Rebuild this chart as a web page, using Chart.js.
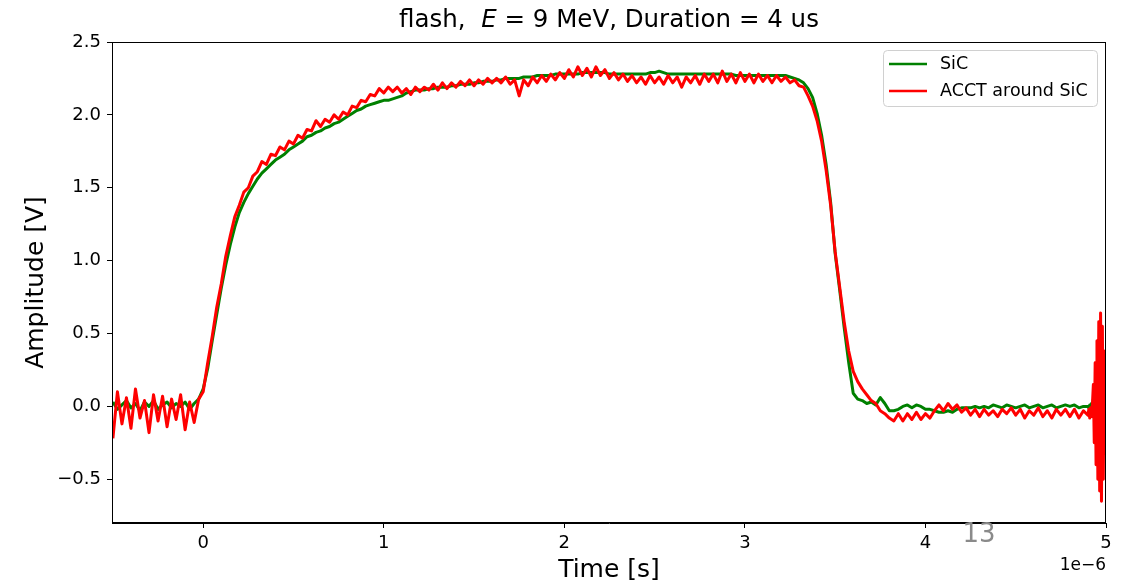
<!DOCTYPE html>
<html>
<head>
<meta charset="utf-8">
<script src="https://cdn.jsdelivr.net/npm/chart.js@4.4.1/dist/chart.umd.min.js"></script>
<style>
  html, body { margin: 0; padding: 0; background: #fff; }
  canvas { display: block; }
</style>
</head>
<body>
<canvas id="pulse" width="1132" height="585"></canvas>
<script>
// time in microseconds (axis shows 1e-6 offset)
const timeUs = [
  -0.5, -0.475, -0.45, -0.425,  -0.4, -0.375, -0.35, -0.325,
  -0.3, -0.275, -0.25, -0.225,  -0.2, -0.175, -0.15, -0.125,
  -0.1, -0.075, -0.05, -0.025,
  0.0, 0.025, 0.05, 0.075,  0.1, 0.125, 0.15, 0.175,
  0.2, 0.225, 0.25, 0.275,  0.3, 0.325, 0.35, 0.375,
  0.4, 0.425, 0.45, 0.475,  0.5, 0.525, 0.55, 0.575,
  0.6, 0.625, 0.65, 0.675,  0.7, 0.725, 0.75, 0.775,
  0.8, 0.825, 0.85, 0.875,  0.9, 0.925, 0.95, 0.975,
  1.0, 1.025, 1.05, 1.075,  1.1, 1.125, 1.15, 1.175,
  1.2, 1.225, 1.25, 1.275,  1.3, 1.325, 1.35, 1.375,
  1.4, 1.425, 1.45, 1.475,  1.5, 1.525, 1.55, 1.575,
  1.6, 1.625, 1.65, 1.675,  1.7, 1.725, 1.75, 1.775,
  1.8, 1.825, 1.85, 1.875,  1.9, 1.925, 1.95, 1.975,
  2.0, 2.025, 2.05, 2.075,  2.1, 2.125, 2.15, 2.175,
  2.2, 2.225, 2.25, 2.275,  2.3, 2.325, 2.35, 2.375,
  2.4, 2.425, 2.45, 2.475,  2.5, 2.525, 2.55, 2.575,
  2.6, 2.625, 2.65, 2.675,  2.7, 2.725, 2.75, 2.775,
  2.8, 2.825, 2.85, 2.875,  2.9, 2.925, 2.95, 2.975,
  3.0, 3.025, 3.05, 3.075,  3.1, 3.125, 3.15, 3.175,
  3.2, 3.225, 3.25, 3.275,  3.3, 3.325, 3.35, 3.375,
  3.4, 3.425, 3.45, 3.475,  3.5, 3.525, 3.55, 3.575,
  3.6, 3.625, 3.65, 3.675,  3.7, 3.725, 3.75, 3.775,
  3.8, 3.825, 3.85, 3.875,  3.9, 3.925, 3.95, 3.975,
  4.0, 4.025, 4.05, 4.075,  4.1, 4.125, 4.15, 4.175,
  4.2, 4.225, 4.25, 4.275,  4.3, 4.325, 4.35, 4.375,
  4.4, 4.425, 4.45, 4.475,  4.5, 4.525, 4.55, 4.575,
  4.6, 4.625, 4.65, 4.675,  4.7, 4.725, 4.75, 4.775,
  4.8, 4.825, 4.85, 4.875,
  4.9, 4.905, 4.91, 4.915, 4.92, 4.925, 4.93, 4.935, 4.94, 4.945,
  4.95, 4.955, 4.96, 4.965, 4.97, 4.975, 4.98, 4.985, 4.99, 4.995, 5.0
];

// SiC signal [V]
const sic = [
  0.03, -0.02, 0.01, 0.04,  -0.01, 0.02, -0.03, 0.03,
  0.00, 0.04, -0.02, 0.01,  0.03, -0.01, 0.02, 0.00,
  0.03, -0.02, 0.02, 0.05,
  0.12, 0.26, 0.45, 0.63,  0.81, 0.97, 1.11, 1.23,
  1.33, 1.40, 1.46, 1.51,  1.56, 1.60, 1.63, 1.66,
  1.69, 1.71, 1.73, 1.76,  1.78, 1.80, 1.82, 1.85,
  1.86, 1.88, 1.89, 1.91,  1.92, 1.94, 1.95, 1.97,
  1.99, 2.01, 2.03, 2.04,  2.06, 2.07, 2.08, 2.09,
  2.10, 2.10, 2.11, 2.12,  2.13, 2.15, 2.16, 2.17,
  2.17, 2.17, 2.18, 2.18,  2.19, 2.19, 2.19, 2.20,
  2.20, 2.21, 2.21, 2.21,  2.22, 2.22, 2.23, 2.23,
  2.23, 2.24, 2.24, 2.25,  2.25, 2.25, 2.25, 2.26,
  2.26, 2.26, 2.27, 2.27,  2.27, 2.27, 2.28, 2.28,
  2.28, 2.28, 2.28, 2.28,  2.29, 2.29, 2.29, 2.29,
  2.29, 2.29, 2.28, 2.28,  2.28, 2.28, 2.28, 2.28,
  2.28, 2.28, 2.28, 2.29,  2.29, 2.30, 2.29, 2.28,
  2.28, 2.28, 2.28, 2.28,  2.28, 2.28, 2.28, 2.28,
  2.28, 2.28, 2.28, 2.28,  2.28, 2.28, 2.27, 2.27,
  2.27, 2.27, 2.27, 2.27,  2.27, 2.27, 2.27, 2.27,
  2.27, 2.27, 2.26, 2.25,  2.24, 2.22, 2.18, 2.12,
  2.01, 1.86, 1.66, 1.40,  1.05, 0.80, 0.54, 0.30,
  0.09, 0.05, 0.04, 0.02,  0.03, 0.01, 0.06, 0.02,
  -0.03, -0.03, -0.02, 0.00,  0.01, -0.01, 0.01, 0.00,
  -0.02, -0.02, -0.03, -0.04,  -0.04, -0.03, -0.04, -0.02,
  -0.01, -0.01, -0.01, 0.00,  -0.01, 0.00, -0.01, 0.01,
  0.00, -0.01, 0.01, 0.00,  -0.01, 0.00, 0.01, -0.01,
  0.00, 0.01, -0.01, 0.00,  0.01, -0.01, 0.00, 0.01,
  0.00, 0.01, -0.01, 0.00,
  0.00, -0.01, 0.01, -0.02, 0.02, -0.03, 0.05, -0.08, 0.10, -0.14,
  0.18, -0.22, 0.25, -0.28, 0.30, -0.30, 0.26, -0.22, 0.16, -0.12, 0.05
];

// ACCT around SiC [V]
const acct = [
  -0.22, 0.10, -0.12, 0.06,  -0.15, 0.12, -0.08, 0.04,
  -0.18, 0.08, -0.10, 0.07,  -0.14, 0.05, -0.09, 0.08,
  -0.16, 0.03, -0.11, 0.05,
  0.10, 0.30, 0.48, 0.68,  0.84, 1.03, 1.17, 1.30,
  1.38, 1.47, 1.50, 1.58,  1.61, 1.68, 1.66, 1.73,
  1.72, 1.78, 1.76, 1.82,  1.80, 1.86, 1.84, 1.90,
  1.89, 1.96, 1.92, 1.97,  1.95, 2.00, 1.97, 2.02,
  2.00, 2.06, 2.05, 2.10,  2.09, 2.14, 2.13, 2.18,
  2.15, 2.19, 2.16, 2.19,  2.15, 2.18, 2.14, 2.19,
  2.16, 2.19, 2.17, 2.21,  2.17, 2.22, 2.18, 2.22,
  2.19, 2.23, 2.20, 2.24,  2.20, 2.24, 2.21, 2.25,
  2.22, 2.25, 2.22, 2.26,  2.21, 2.24, 2.13, 2.24,
  2.20, 2.26, 2.22, 2.27,  2.23, 2.28, 2.24, 2.29,
  2.25, 2.31, 2.26, 2.33,  2.27, 2.32, 2.26, 2.33,
  2.27, 2.31, 2.25, 2.29,  2.24, 2.28, 2.23, 2.27,
  2.22, 2.26, 2.21, 2.27,  2.22, 2.26, 2.21, 2.27,
  2.22, 2.26, 2.19, 2.26,  2.22, 2.27, 2.21, 2.28,
  2.23, 2.28, 2.22, 2.30,  2.23, 2.28, 2.22, 2.29,
  2.23, 2.28, 2.22, 2.28,  2.23, 2.27, 2.22, 2.27,
  2.23, 2.26, 2.22, 2.24,  2.20, 2.19, 2.13, 2.06,
  1.96, 1.82, 1.62, 1.38,  1.06, 0.82, 0.58, 0.38,
  0.24, 0.17, 0.12, 0.08,  0.04, 0.02, -0.03, -0.05,
  -0.08, -0.10, -0.05, -0.10,  -0.05, -0.09, -0.04, -0.09,
  -0.05, -0.08, -0.03, 0.01,  -0.03, 0.02, -0.02, 0.01,
  -0.04, -0.01, -0.06, -0.02,  -0.07, -0.02, -0.06, -0.03,
  -0.07, -0.02, -0.05, -0.01,  -0.06, -0.02, -0.08, -0.03,
  -0.06, -0.01, -0.07, -0.03,  -0.08, -0.02, -0.06, -0.02,
  -0.07, -0.02, -0.08, -0.03,
  -0.06, -0.02, -0.08, -0.01, -0.07, 0.02, 0.15, -0.25, 0.30, -0.40,
  0.45, -0.50, 0.58, -0.58, 0.64, -0.65, 0.55, -0.50, 0.38, -0.32, 0.12
];

const xTicksUs = [0, 1, 2, 3, 4, 5];
const yTicks = [-0.5, 0.0, 0.5, 1.0, 1.5, 2.0, 2.5];
const seriesNames = ["SiC", "ACCT around SiC"];
const seriesColors = ["green", "red"];

const FONT = "'DejaVu Sans', sans-serif";

const toPoints = (vals) => timeUs.map((t, i) => ({ x: t * 1e-6, y: vals[i] }));

// extra drawing: frame, title, axis labels, offset text, legend, page number
const decorations = {
  id: "decorations",
  afterDraw(chart) {
    const ctx = chart.ctx;
    const a = chart.chartArea;
    ctx.save();

    // full box frame
    ctx.strokeStyle = "#000";
    ctx.lineWidth = 1;
    ctx.strokeRect(a.left + 0.5, a.top + 0.5, a.right - a.left - 1, a.bottom - a.top - 1);

    // title with italic E
    const parts = [
      { t: "flash,  ", f: "24.5px " + FONT },
      { t: "E", f: "italic 24.5px " + FONT },
      { t: " = 9 MeV, Duration = 4 us", f: "24.5px " + FONT }
    ];
    let total = 0;
    parts.forEach(p => { ctx.font = p.f; p.w = ctx.measureText(p.t).width; total += p.w; });
    let x = (a.left + a.right) / 2 - total / 2;
    ctx.fillStyle = "#000";
    ctx.textBaseline = "middle";
    ctx.textAlign = "left";
    parts.forEach(p => { ctx.font = p.f; ctx.fillText(p.t, x, 21); x += p.w; });

    // axis labels
    ctx.font = "25px " + FONT;
    ctx.textAlign = "center";
    ctx.fillText("Time [s]", (a.left + a.right) / 2, 570);
    ctx.save();
    ctx.translate(36, (a.top + a.bottom) / 2);
    ctx.rotate(-Math.PI / 2);
    ctx.fillText("Amplitude [V]", 0, 0);
    ctx.restore();

    // offset text
    ctx.font = "17px " + FONT;
    ctx.textAlign = "right";
    ctx.fillText("1e\u22126", a.right, 566);

    // page number from slide
    ctx.font = "26px " + FONT;
    ctx.textAlign = "center";
    ctx.fillStyle = "#8a8a8a";
    ctx.fillText("13", 979, 535);

    // legend
    ctx.beginPath();
    ctx.roundRect(883.5, 50.5, 214, 56, 4);
    ctx.fillStyle = "rgba(255,255,255,0.8)";
    ctx.fill();
    ctx.strokeStyle = "#d0d0d0";
    ctx.stroke();
    ctx.font = "17.5px " + FONT;
    ctx.textAlign = "left";
    seriesNames.forEach((name, i) => {
      const y = 64 + i * 27;
      ctx.strokeStyle = seriesColors[i];
      ctx.lineWidth = 2.5;
      ctx.beginPath();
      ctx.moveTo(889, y);
      ctx.lineTo(927, y);
      ctx.stroke();
      ctx.fillStyle = "#000";
      ctx.fillText(name, 940, y);
    });

    ctx.restore();
  }
};

new Chart(document.getElementById("pulse"), {
  type: "line",
  data: {
    datasets: [
      {
        label: seriesNames[0],
        data: toPoints(sic),
        borderColor: seriesColors[0],
        borderWidth: 3,
        borderJoinStyle: "round",
        pointRadius: 0,
        tension: 0,
        fill: false,
        order: 2
      },
      {
        label: seriesNames[1],
        data: toPoints(acct),
        borderColor: seriesColors[1],
        borderWidth: 3,
        borderJoinStyle: "round",
        pointRadius: 0,
        tension: 0,
        fill: false,
        order: 1
      }
    ]
  },
  options: {
    responsive: false,
    animation: false,
    devicePixelRatio: 1,
    layout: { padding: { top: 42, right: 26, left: 0, bottom: 0 } },
    plugins: {
      legend: { display: false },
      title: { display: false },
      tooltip: { enabled: false }
    },
    scales: {
      x: {
        type: "linear",
        min: -0.505e-6,
        max: 5e-6,
        afterBuildTicks: (scale) => { scale.ticks = xTicksUs.map(v => ({ value: v * 1e-6 })); },
        afterFit: (scale) => { scale.height = 62; },
        grid: { drawOnChartArea: false, drawTicks: true, tickLength: 5, color: "#000" },
        border: { color: "#000", width: 1 },
        ticks: {
          autoSkip: false,
          maxRotation: 0,
          padding: 5,
          color: "#000",
          font: { family: FONT, size: 18 },
          callback: (v) => String(Math.round(v * 1e6))
        }
      },
      y: {
        type: "linear",
        min: -0.8,
        max: 2.5,
        afterBuildTicks: (scale) => { scale.ticks = yTicks.map(v => ({ value: v })); },
        afterFit: (scale) => { scale.width = 112; },
        grid: { drawOnChartArea: false, drawTicks: true, tickLength: 5, color: "#000" },
        border: { color: "#000", width: 1 },
        ticks: {
          autoSkip: false,
          padding: 6,
          color: "#000",
          font: { family: FONT, size: 18 },
          callback: (v) => v.toFixed(1).replace("-", "\u2212")
        }
      }
    }
  },
  plugins: [decorations]
});
</script>
</body>
</html>
